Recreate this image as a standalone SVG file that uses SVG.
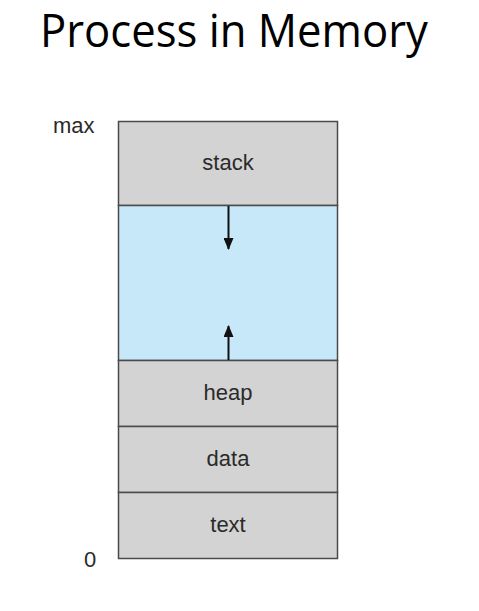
<svg xmlns="http://www.w3.org/2000/svg" width="479" height="611" viewBox="0 0 479 611">
<defs>
<style>
.seg{fill:#d3d3d3;stroke:#4a4a4a;stroke-width:1.5}
.free{fill:#c7e8f8;stroke:#4a4a4a;stroke-width:1.5}
.lbl{font-family:"Liberation Sans",Arial,sans-serif;font-size:22px;fill:#2a2a2a;text-anchor:middle}
.side{font-family:"Liberation Sans",Arial,sans-serif;font-size:22px;fill:#2a2a2a}
.conn{stroke:#111;stroke-width:2;fill:none}
</style>
<marker id="ah" viewBox="0 0 12 10" refX="11" refY="5" markerWidth="12" markerHeight="10" markerUnits="userSpaceOnUse" orient="auto">
<path d="M0,0 L12,5 L0,10 Z" fill="#111"/>
</marker>
</defs>
<rect width="479" height="611" fill="#fff"/>
<text x="234" y="47" font-family="'Open Sans','Noto Sans',sans-serif" font-size="45" fill="#000" text-anchor="middle" textLength="388" lengthAdjust="spacingAndGlyphs">Process in Memory</text>
<text class="side" x="53" y="133">max</text>
<text class="side" x="84" y="567">0</text>
<g id="stack"><rect class="seg" x="118.5" y="121.5" width="219" height="84"/><text class="lbl" x="228" y="170">stack</text></g>
<g id="free"><rect class="free" x="118.5" y="205.5" width="219" height="155"/></g>
<g id="heap"><rect class="seg" x="118.5" y="360.5" width="219" height="66"/><text class="lbl" x="228" y="400">heap</text></g>
<g id="data"><rect class="seg" x="118.5" y="426.5" width="219" height="66"/><text class="lbl" x="228" y="466">data</text></g>
<g id="text"><rect class="seg" x="118.5" y="492.5" width="219" height="66"/><text class="lbl" x="228" y="532">text</text></g>
<g id="connectors">
<line class="conn" x1="228.5" y1="206" x2="228.5" y2="249" marker-end="url(#ah)"/>
<line class="conn" x1="228.5" y1="360" x2="228.5" y2="326" marker-end="url(#ah)"/>
</g>
</svg>
